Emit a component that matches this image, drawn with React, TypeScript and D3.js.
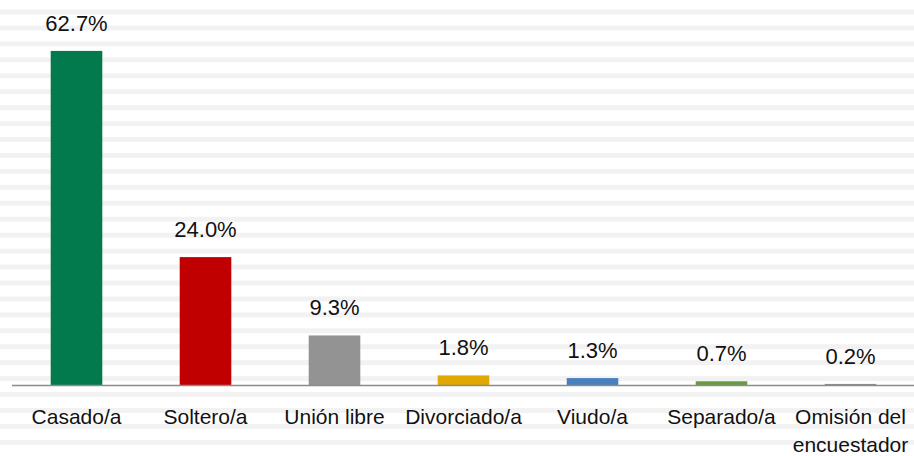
import * as d3 from "d3";
import { useEffect, useRef } from "react";

const categorias = [
  "Casado/a",
  "Soltero/a",
  "Unión libre",
  "Divorciado/a",
  "Viudo/a",
  "Separado/a",
  "Omisión del|encuestador",
];
const valores = [62.7, 24.0, 9.3, 1.8, 1.3, 0.7, 0.2];
const etiquetas = ["62.7%", "24.0%", "9.3%", "1.8%", "1.3%", "0.7%", "0.2%"];
const colores = ["#037a4e", "#c00000", "#939393", "#e0a800", "#4a80bd", "#6a9b3e", "#8c8c8c"];

const App = () => {
  const ref = useRef<SVGSVGElement>(null);

  useEffect(() => {
    const width = 914,
      height = 456;
    const margin = { top: 12, right: -1, bottom: 71, left: 12 };

    const svg = d3.select(ref.current);
    svg.selectAll("*").remove();

    // fondo rayado
    svg.append("rect").attr("width", width).attr("height", height).attr("fill", "#ffffff");
    svg
      .selectAll("rect.raya")
      .data(d3.range(0, 29))
      .join("rect")
      .attr("class", "raya")
      .attr("x", 0)
      .attr("y", (i) => 10 + i * 15.94 - 0.5)
      .attr("width", width)
      .attr("height", 5)
      .attr("fill", "#f2f2f2");

    const x = d3
      .scaleBand()
      .domain(categorias)
      .range([margin.left, width - margin.right])
      .paddingInner(0.6)
      .paddingOuter(0.3);

    const y = d3
      .scaleLinear()
      .domain([0, 70])
      .range([height - margin.bottom, margin.top]);

    const font = "'Liberation Sans', Arial, sans-serif";

    // barras
    svg
      .selectAll("rect.barra")
      .data(valores)
      .join("rect")
      .attr("class", "barra")
      .attr("x", (d, i) => x(categorias[i]) as number)
      .attr("y", (d) => y(d))
      .attr("width", x.bandwidth())
      .attr("height", (d) => y(0) - y(d))
      .attr("fill", (d, i) => colores[i]);

    // eje
    svg
      .append("line")
      .attr("x1", margin.left)
      .attr("x2", width)
      .attr("y1", y(0) + 0.5)
      .attr("y2", y(0) + 0.5)
      .attr("stroke", "#8c8c8c")
      .attr("stroke-width", 1.5);

    // etiquetas de valores
    svg
      .selectAll("text.valor")
      .data(valores)
      .join("text")
      .attr("class", "valor")
      .attr("x", (d, i) => (x(categorias[i]) as number) + x.bandwidth() / 2)
      .attr("y", (d) => y(d) - 20)
      .attr("text-anchor", "middle")
      .attr("font-family", font)
      .attr("font-size", 22)
      .attr("fill", "#111")
      .text((d, i) => etiquetas[i]);

    // categorias
    const cat = svg
      .selectAll("text.cat")
      .data(categorias)
      .join("text")
      .attr("class", "cat")
      .attr("x", (d) => (x(d) as number) + x.bandwidth() / 2)
      .attr("y", 424)
      .attr("text-anchor", "middle")
      .attr("font-family", font)
      .attr("font-size", 21)
      .attr("fill", "#111");

    cat
      .selectAll("tspan")
      .data((d) => d.split("|"))
      .join("tspan")
      .attr("x", function () {
        return (this.parentNode as SVGTextElement).getAttribute("x");
      })
      .attr("dy", (d, i) => (i === 0 ? 0 : 28))
      .text((d) => d);
  }, []);

  return <svg width={914} height={456} ref={ref} style={{ display: "block", position: "absolute", left: 0, top: 0 }} />;
};

export default App;
